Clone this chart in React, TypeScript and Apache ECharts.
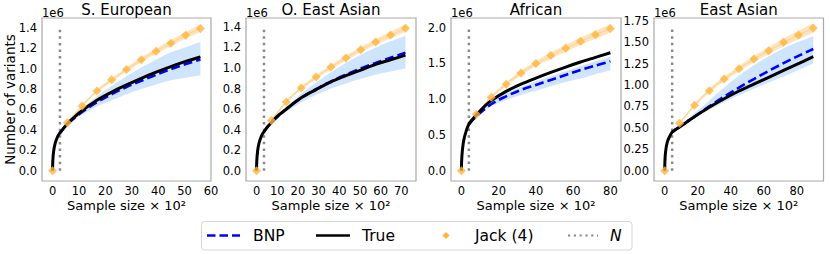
import React, { useEffect, useRef } from "react";
import * as echarts from "echarts";

// ---------------- data (values in units of 1e6 variants; x in sample size x 10^2) ----------------
const PANEL_TITLES = ["S. European", "O. East Asian", "African", "East Asian"];
const PANEL_N = [2.8, 3.6, 4, 4.5];

// S. European
const SE_TRUE_X = [0, 0.1, 0.4, 1, 2, 2.8, 4, 5.6, 8, 11.2, 16.8, 22.4, 28, 33.6, 39.2, 44.8, 50.4, 56];
const SE_TRUE_Y = [0, 0.1, 0.19, 0.27, 0.34, 0.37, 0.41, 0.46, 0.52, 0.59, 0.69, 0.77, 0.84, 0.905, 0.965, 1.02, 1.07, 1.115];
const SE_BNP_X = [2.8, 5.6, 11.2, 16.8, 22.4, 28, 33.6, 39.2, 44.8, 50.4, 56];
const SE_BNP_Y = [0.37, 0.455, 0.575, 0.67, 0.75, 0.82, 0.88, 0.94, 0.995, 1.045, 1.09];
const SE_BNP_LO = [0.37, 0.445, 0.55, 0.63, 0.69, 0.75, 0.8, 0.845, 0.885, 0.91, 0.935];
const SE_BNP_HI = [0.37, 0.47, 0.61, 0.73, 0.83, 0.925, 1.01, 1.09, 1.16, 1.21, 1.26];
const SE_JACK_X = [0, 5.6, 11.2, 16.8, 22.4, 28, 33.6, 39.2, 44.8, 50.4, 56];
const SE_JACK_Y = [0, 0.47, 0.635, 0.78, 0.89, 0.99, 1.087, 1.17, 1.248, 1.327, 1.392];
const SE_JACK_LO = [0, 0.462, 0.623, 0.765, 0.872, 0.969, 1.063, 1.143, 1.218, 1.294, 1.356];
const SE_JACK_HI = [0, 0.478, 0.647, 0.795, 0.908, 1.011, 1.111, 1.197, 1.278, 1.36, 1.428];

// O. East Asian
const OEA_TRUE_X = [0, 0.1, 0.5, 1.2, 2.4, 3.6, 5, 7.2, 10, 14.4, 21.6, 28.8, 36, 43.2, 50.4, 57.6, 64.8, 72];
const OEA_TRUE_Y = [0, 0.09, 0.19, 0.27, 0.34, 0.38, 0.42, 0.47, 0.53, 0.6, 0.71, 0.79, 0.865, 0.925, 0.98, 1.035, 1.08, 1.125];
const OEA_BNP_X = [3.6, 7.2, 14.4, 21.6, 28.8, 36, 43.2, 50.4, 57.6, 64.8, 72];
const OEA_BNP_Y = [0.38, 0.47, 0.6, 0.71, 0.795, 0.87, 0.935, 0.995, 1.05, 1.1, 1.15];
const OEA_BNP_LO = [0.38, 0.46, 0.575, 0.665, 0.74, 0.8, 0.85, 0.895, 0.935, 0.965, 0.995];
const OEA_BNP_HI = [0.38, 0.48, 0.625, 0.75, 0.86, 0.96, 1.05, 1.13, 1.2, 1.26, 1.315];
const OEA_JACK_X = [0, 7.2, 14.4, 21.6, 28.8, 36, 43.2, 50.4, 57.6, 64.8, 72];
const OEA_JACK_Y = [0, 0.49, 0.67, 0.805, 0.912, 1.01, 1.097, 1.178, 1.253, 1.322, 1.386];
const OEA_JACK_LO = [0, 0.482, 0.658, 0.79, 0.894, 0.989, 1.073, 1.151, 1.223, 1.289, 1.35];
const OEA_JACK_HI = [0, 0.498, 0.682, 0.82, 0.93, 1.031, 1.121, 1.205, 1.283, 1.355, 1.422];

// African
const AF_TRUE_X = [0, 0.1, 0.5, 1.2, 2.5, 4, 6, 8, 12, 16, 24, 32, 40, 48, 56, 64, 72, 80];
const AF_TRUE_Y = [0, 0.13, 0.28, 0.42, 0.55, 0.65, 0.72, 0.78, 0.89, 0.98, 1.11, 1.21, 1.295, 1.375, 1.45, 1.52, 1.585, 1.65];
const AF_BNP_X = [4, 8, 16, 24, 32, 40, 48, 56, 64, 72, 80];
const AF_BNP_Y = [0.65, 0.76, 0.93, 1.04, 1.13, 1.2, 1.27, 1.34, 1.41, 1.47, 1.53];
const AF_BNP_LO = [0.65, 0.745, 0.9, 0.99, 1.06, 1.12, 1.18, 1.24, 1.29, 1.35, 1.4];
const AF_BNP_HI = [0.65, 0.775, 0.96, 1.08, 1.17, 1.25, 1.32, 1.39, 1.46, 1.53, 1.595];
const AF_JACK_X = [0, 8, 16, 24, 32, 40, 48, 56, 64, 72, 80];
const AF_JACK_Y = [0, 0.79, 1.028, 1.21, 1.368, 1.498, 1.61, 1.713, 1.81, 1.902, 1.99];
const AF_JACK_LO = [0, 0.777, 1.008, 1.184, 1.336, 1.46, 1.567, 1.665, 1.757, 1.845, 1.93];
const AF_JACK_HI = [0, 0.803, 1.048, 1.236, 1.4, 1.536, 1.653, 1.761, 1.863, 1.959, 2.05];

// East Asian
const EA_TRUE_X = [0, 0.1, 0.5, 1.5, 3, 4.5, 6.5, 9, 13.5, 18, 27, 36, 45, 54, 63, 72, 81, 90];
const EA_TRUE_Y = [0, 0.1, 0.22, 0.33, 0.4, 0.45, 0.48, 0.51, 0.57, 0.63, 0.74, 0.84, 0.93, 1.01, 1.09, 1.17, 1.25, 1.33];
const EA_BNP_X = [4.5, 9, 18, 27, 36, 45, 54, 63, 72, 81, 90];
const EA_BNP_Y = [0.45, 0.51, 0.63, 0.75, 0.865, 0.97, 1.07, 1.165, 1.255, 1.34, 1.42];
const EA_BNP_LO = [0.45, 0.5, 0.61, 0.71, 0.8, 0.88, 0.955, 1.03, 1.1, 1.175, 1.25];
const EA_BNP_HI = [0.45, 0.525, 0.67, 0.82, 0.97, 1.11, 1.23, 1.335, 1.43, 1.505, 1.57];
const EA_JACK_X = [0, 9, 18, 27, 36, 45, 54, 63, 72, 81, 90];
const EA_JACK_Y = [0, 0.553, 0.763, 0.934, 1.07, 1.19, 1.303, 1.4, 1.498, 1.583, 1.665];
const EA_JACK_LO = [0, 0.543, 0.747, 0.912, 1.043, 1.158, 1.266, 1.358, 1.452, 1.533, 1.61];
const EA_JACK_HI = [0, 0.563, 0.779, 0.956, 1.097, 1.222, 1.34, 1.442, 1.544, 1.633, 1.72];

// tick labels
const SE_X_TICKS = [0, 10, 20, 30, 40, 50, 60];
const OEA_X_TICKS = [0, 10, 20, 30, 40, 50, 60, 70];
const AF_X_TICKS = [0, 20, 40, 60, 80];
const EA_X_TICKS = [0, 20, 40, 60, 80];
const SE_Y_TICKS = [0, 0.2, 0.4, 0.6, 0.8, 1.0, 1.2, 1.4];
const OEA_Y_TICKS = [0, 0.2, 0.4, 0.6, 0.8, 1.0, 1.2, 1.4];
const AF_Y_TICKS = [0, 0.5, 1.0, 1.5, 2.0];
const EA_Y_TICKS = [0, 0.25, 0.5, 0.75, 1.0, 1.25, 1.5, 1.75];

// ---------------- layout / style ----------------
const FONT = "DejaVu Sans";
const GRIDS = [
  { left: 42, width: 169 },
  { left: 246, width: 170 },
  { left: 451, width: 170 },
  { left: 654, width: 169.5 },
];
const GRID_TOP = 18;
const GRID_H = 163;
const X_RANGES = [[-4, 60], [-5.1, 77.1], [-5.6, 85.7], [-6.5, 96.2]];
const Y_RANGES = [[-0.1, 1.495], [-0.1, 1.487], [-0.144, 2.136], [-0.12, 1.782]];
const Y_DECIMALS = [1, 1, 1, 2];

const PANELS = [
  { tx: SE_TRUE_X, ty: SE_TRUE_Y, bx: SE_BNP_X, by: SE_BNP_Y, blo: SE_BNP_LO, bhi: SE_BNP_HI, jx: SE_JACK_X, jy: SE_JACK_Y, jlo: SE_JACK_LO, jhi: SE_JACK_HI, xt: SE_X_TICKS, yt: SE_Y_TICKS },
  { tx: OEA_TRUE_X, ty: OEA_TRUE_Y, bx: OEA_BNP_X, by: OEA_BNP_Y, blo: OEA_BNP_LO, bhi: OEA_BNP_HI, jx: OEA_JACK_X, jy: OEA_JACK_Y, jlo: OEA_JACK_LO, jhi: OEA_JACK_HI, xt: OEA_X_TICKS, yt: OEA_Y_TICKS },
  { tx: AF_TRUE_X, ty: AF_TRUE_Y, bx: AF_BNP_X, by: AF_BNP_Y, blo: AF_BNP_LO, bhi: AF_BNP_HI, jx: AF_JACK_X, jy: AF_JACK_Y, jlo: AF_JACK_LO, jhi: AF_JACK_HI, xt: AF_X_TICKS, yt: AF_Y_TICKS },
  { tx: EA_TRUE_X, ty: EA_TRUE_Y, bx: EA_BNP_X, by: EA_BNP_Y, blo: EA_BNP_LO, bhi: EA_BNP_HI, jx: EA_JACK_X, jy: EA_JACK_Y, jlo: EA_JACK_LO, jhi: EA_JACK_HI, xt: EA_X_TICKS, yt: EA_Y_TICKS },
];

const C_BNP = "#0000ff";
const C_BAND = "#cfe5fe";
const C_JACK = "#ffb43c";
const C_JACK_LINE = "#ffd899";
const C_JACK_BAND = "#ffe5bf";
const C_N = "#8a8a8a";

const zip = (xs: number[], ys: number[]) => xs.map((x, i) => [x, ys[i]]);

// Catmull-Rom -> cubic bezier path through pixel points (rendering only)
function curveThrough(p: number[][]): string {
  let d = "";
  for (let i = 0; i < p.length - 1; i++) {
    const p0 = p[Math.max(i - 1, 0)];
    const p1 = p[i];
    const p2 = p[i + 1];
    const p3 = p[Math.min(i + 2, p.length - 1)];
    const c1x = p1[0] + (p2[0] - p0[0]) / 6;
    const c1y = p1[1] + (p2[1] - p0[1]) / 6;
    const c2x = p2[0] - (p3[0] - p1[0]) / 6;
    const c2y = p2[1] - (p3[1] - p1[1]) / 6;
    d += ` C${c1x} ${c1y} ${c2x} ${c2y} ${p2[0]} ${p2[1]}`;
  }
  return d;
}

function bandSeries(idx: number, name: string, xs: number[], lo: number[], hi: number[], color: string, z: number) {
  return {
    type: "custom",
    name,
    xAxisIndex: idx,
    yAxisIndex: idx,
    silent: true,
    z,
    data: zip(xs, lo),
    renderItem: (params: any, api: any) => {
      if (params.dataIndex !== 0) return null;
      const up = xs.map((x, i) => api.coord([x, hi[i]]));
      const dn = xs.map((x, i) => api.coord([x, lo[i]])).reverse();
      const d =
        `M${up[0][0]} ${up[0][1]}` + curveThrough(up) + ` L${dn[0][0]} ${dn[0][1]}` + curveThrough(dn) + " Z";
      return { type: "path", shape: { pathData: d }, style: { fill: color, stroke: null } };
    },
  };
}

function curveSeries(idx: number, name: string, xs: number[], ys: number[], style: any, z: number) {
  return {
    type: "custom",
    name,
    xAxisIndex: idx,
    yAxisIndex: idx,
    silent: true,
    z,
    data: zip(xs, ys),
    renderItem: (params: any, api: any) => {
      if (params.dataIndex !== 0) return null;
      const pts = xs.map((x, i) => api.coord([x, ys[i]]));
      const d = `M${pts[0][0]} ${pts[0][1]}` + curveThrough(pts);
      return { type: "path", shape: { pathData: d }, style: { fill: null, ...style } };
    },
  };
}

function buildOption() {
  const grid: any[] = [];
  const xAxis: any[] = [];
  const yAxis: any[] = [];
  const series: any[] = [];
  const graphic: any[] = [];

  PANELS.forEach((p, i) => {
    const g = GRIDS[i];
    grid.push({
      left: g.left,
      top: GRID_TOP,
      width: g.width,
      height: GRID_H,
      show: true,
      borderColor: "#a9a9a9",
      borderWidth: 1.2,
      backgroundColor: "transparent",
      containLabel: false,
      outerBoundsMode: "none",
    });
    xAxis.push({
      type: "value",
      gridIndex: i,
      min: X_RANGES[i][0],
      max: X_RANGES[i][1],
      axisLine: { show: false },
      axisTick: { show: false },
      splitLine: { show: false },
      axisLabel: {
        customValues: p.xt,
        formatter: (v: number) => String(v),
        fontSize: 11.5,
        fontFamily: FONT,
        color: "#000",
        margin: 4,
      },
    });
    yAxis.push({
      type: "value",
      gridIndex: i,
      min: Y_RANGES[i][0],
      max: Y_RANGES[i][1],
      axisLine: { show: false },
      axisTick: { show: false },
      splitLine: { show: false },
      axisLabel: {
        customValues: p.yt,
        formatter: (v: number) => v.toFixed(Y_DECIMALS[i]),
        fontSize: 11.5,
        fontFamily: FONT,
        color: "#000",
        margin: 5,
      },
    });

    const n = PANEL_N[i];
    const jackMax = p.jy[p.jy.length - 1];

    series.push(bandSeries(i, "BNP band", p.bx, p.blo, p.bhi, C_BAND, 1));
    series.push(bandSeries(i, "Jack band", p.jx.slice(1), p.jlo.slice(1), p.jhi.slice(1), C_JACK_BAND, 1));
    series.push(curveSeries(i, "Jack (4) line", p.jx.slice(1), p.jy.slice(1), { stroke: C_JACK_LINE, lineWidth: 1.4 }, 2));
    series.push({
      type: "line",
      name: "N",
      xAxisIndex: i,
      yAxisIndex: i,
      data: [[n, 0], [n, jackMax]],
      symbol: "none",
      lineStyle: { color: C_N, width: 2.5, type: [2.5, 4.1], cap: "butt" },
      z: 2,
      silent: true,
    });
    series.push(curveSeries(i, "BNP", p.bx, p.by, { stroke: C_BNP, lineWidth: 2.6, lineDash: [9, 4] }, 3));
    series.push(curveSeries(i, "True", p.tx, p.ty, { stroke: "#000", lineWidth: 3 }, 4));
    series.push({
      type: "scatter",
      name: "Jack (4)",
      xAxisIndex: i,
      yAxisIndex: i,
      data: zip(p.jx, p.jy),
      symbol: "diamond",
      symbolSize: 9,
      itemStyle: { color: C_JACK },
      z: 5,
      silent: true,
    });

    graphic.push({
      type: "text",
      x: g.left + g.width / 2,
      y: 10,
      style: { text: PANEL_TITLES[i], fontSize: 15, fontFamily: FONT, fill: "#000", align: "center", verticalAlign: "middle" },
    });
    graphic.push({
      type: "text",
      x: g.left,
      y: 12.5,
      style: { text: "1e6", fontSize: 11.5, fontFamily: FONT, fill: "#000", align: "left", verticalAlign: "middle" },
    });
    graphic.push({
      type: "text",
      x: g.left + g.width / 2,
      y: 205,
      style: { text: "Sample size × 10²", fontSize: 13, fontFamily: FONT, fill: "#000", align: "center", verticalAlign: "middle" },
    });
  });

  graphic.push({
    type: "text",
    x: 9.5,
    y: 99.5,
    rotation: Math.PI / 2,
    style: { text: "Number of variants", fontSize: 13.5, fontFamily: FONT, fill: "#000", align: "center", verticalAlign: "middle" },
  });

  // legend
  const ly = 235.5;
  graphic.push({
    type: "rect",
    shape: { x: 201.5, y: 221.5, width: 430.5, height: 28.5, r: 3 },
    style: { fill: "#fff", stroke: "#d6d6d6", lineWidth: 1 },
    z: 10,
  });
  graphic.push({ type: "line", shape: { x1: 207, y1: ly, x2: 240, y2: ly }, style: { stroke: C_BNP, lineWidth: 2.6, lineDash: [8.5, 4] }, z: 11 });
  graphic.push({ type: "text", x: 253, y: ly, style: { text: "BNP", fontSize: 15.5, fontFamily: FONT, fill: "#000", align: "left", verticalAlign: "middle" }, z: 11 });
  graphic.push({ type: "line", shape: { x1: 316, y1: ly, x2: 350, y2: ly }, style: { stroke: "#000", lineWidth: 2.6 }, z: 11 });
  graphic.push({ type: "text", x: 362, y: ly, style: { text: "True", fontSize: 15.5, fontFamily: FONT, fill: "#000", align: "left", verticalAlign: "middle" }, z: 11 });
  graphic.push({
    type: "polygon",
    shape: { points: [[446, ly - 3.6], [449.6, ly], [446, ly + 3.6], [442.4, ly]] },
    style: { fill: C_JACK },
    z: 11,
  });
  graphic.push({ type: "text", x: 475, y: ly, style: { text: "Jack (4)", fontSize: 15.5, fontFamily: FONT, fill: "#000", align: "left", verticalAlign: "middle" }, z: 11 });
  graphic.push({ type: "line", shape: { x1: 568, y1: ly, x2: 598, y2: ly }, style: { stroke: C_N, lineWidth: 2.2, lineDash: [2.2, 3.6] }, z: 11 });
  graphic.push({ type: "text", x: 610, y: ly, style: { text: "N", fontSize: 15.5, fontFamily: FONT, fontStyle: "italic", fill: "#000", align: "left", verticalAlign: "middle" }, z: 11 });

  return {
    animation: false,
    backgroundColor: "#fff",
    textStyle: { fontFamily: FONT },
    grid,
    xAxis,
    yAxis,
    series,
    graphic,
  };
}

export default function App() {
  const ref = useRef<HTMLDivElement>(null);
  useEffect(() => {
    const chart = echarts.init(ref.current as HTMLDivElement, null, { renderer: "svg" });
    chart.setOption(buildOption() as any);
    return () => chart.dispose();
  }, []);
  return (
    <div
      ref={ref}
      style={{ position: "absolute", left: 0, top: 0, width: 830, height: 254, background: "#fff" }}
    />
  );
}
